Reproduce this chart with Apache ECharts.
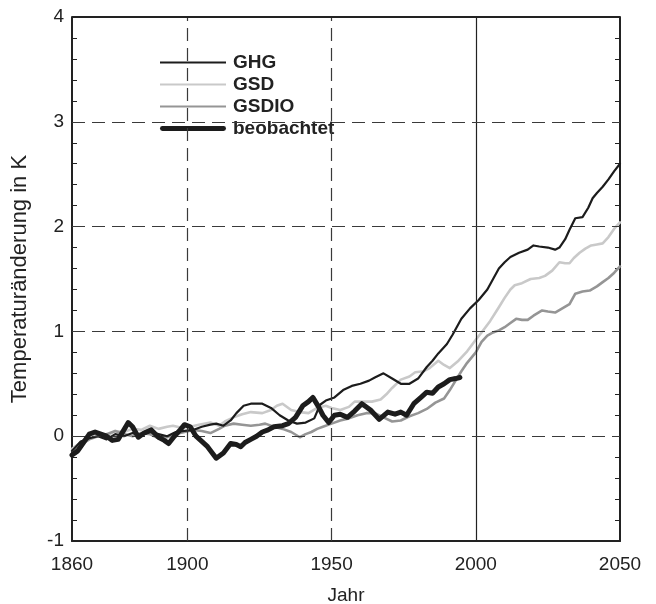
<!DOCTYPE html>
<html>
<head>
<meta charset="utf-8">
<script src="https://cdn.jsdelivr.net/npm/echarts@6/dist/echarts.min.js"></script>
<style>
  html, body { margin: 0; padding: 0; background: #fff; }
  #chart { width: 656px; height: 604px; }
</style>
</head>
<body>
<div id="chart"></div>
<script>
// Simulated and observed global temperature change (K), 1860-2050
const ghgYears = [1860,1863,1866,1869,1872,1875,1878,1881,1884,1887,1890,1893,1896,1899,1902,1905,1908,1910,1912.5,1915,1917,1919.5,1922,1926,1929,1932,1935,1938,1941,1944,1946,1948,1951,1954,1957,1960,1963,1965,1968,1971,1974,1977,1980,1983,1985,1987,1990,1992,1995,1998,2001,2004,2006,2008,2010,2012,2015,2018,2020,2022,2025,2027.5,2029,2031,2032.5,2034.5,2037,2039,2040.5,2042,2044,2046,2048,2050];
const ghgValues = [-0.14,-0.05,-0.02,0.0,-0.03,0.02,0.0,0.03,0.01,0.04,0.02,0.0,0.04,0.05,0.06,0.09,0.11,0.12,0.1,0.15,0.22,0.29,0.31,0.31,0.27,0.2,0.15,0.12,0.13,0.17,0.3,0.34,0.37,0.44,0.48,0.5,0.53,0.56,0.6,0.55,0.5,0.5,0.55,0.66,0.72,0.79,0.88,0.97,1.12,1.22,1.3,1.4,1.5,1.6,1.66,1.71,1.75,1.78,1.82,1.81,1.8,1.78,1.8,1.88,1.97,2.08,2.09,2.18,2.27,2.32,2.38,2.45,2.53,2.6];

const gsdYears = [1860,1863,1866,1869,1872,1875,1878,1881,1884,1887,1890,1893,1895,1898,1901,1904,1908,1911,1913,1916,1919,1922,1926,1929,1931,1933,1936,1939,1942,1945,1948,1950,1953,1956,1958,1961,1964,1967,1969,1971,1974,1977,1979,1982,1984,1987,1989,1991,1994,1997,2000,2002,2005,2008,2010,2012,2013.5,2016,2019,2022,2024,2026.5,2029,2031,2032.5,2034,2036,2038,2040,2042,2044,2046,2048,2050];
const gsdValues = [-0.12,-0.06,-0.02,0.02,0.0,0.05,0.04,0.07,0.06,0.1,0.07,0.09,0.1,0.08,0.09,0.11,0.13,0.1,0.14,0.18,0.21,0.23,0.22,0.25,0.29,0.31,0.25,0.23,0.22,0.27,0.29,0.27,0.25,0.28,0.33,0.33,0.33,0.35,0.4,0.46,0.54,0.57,0.61,0.62,0.65,0.72,0.68,0.65,0.72,0.81,0.92,0.99,1.1,1.23,1.32,1.4,1.44,1.46,1.5,1.51,1.53,1.58,1.66,1.65,1.65,1.7,1.75,1.79,1.82,1.83,1.84,1.9,1.98,2.04];

const gsdioYears = [1860,1863,1866,1869,1872,1875,1878,1881,1884,1887,1890,1893,1896,1899,1902,1905,1908,1911,1913,1916,1919,1922,1925,1927,1930,1933,1936,1939,1941,1943,1945,1947,1950,1953,1956,1959,1962,1965,1968,1971,1974,1977,1980,1983,1986,1989,1991,1993,1995,1997,2000,2002,2004,2006,2008,2010,2012,2014,2016,2018,2020,2023,2025,2027.5,2030,2032.5,2034.5,2037,2039.5,2042,2044,2046,2048,2050];
const gsdioValues = [-0.14,-0.08,-0.03,0.0,0.02,0.05,0.02,0.0,0.03,0.02,-0.02,-0.01,0.02,0.04,0.06,0.05,0.03,0.07,0.1,0.12,0.11,0.1,0.11,0.12,0.09,0.07,0.04,-0.01,0.02,0.04,0.07,0.09,0.12,0.15,0.17,0.2,0.22,0.22,0.18,0.14,0.15,0.19,0.22,0.26,0.32,0.36,0.44,0.53,0.62,0.7,0.8,0.9,0.96,0.99,1.01,1.04,1.08,1.12,1.11,1.11,1.15,1.2,1.19,1.18,1.22,1.26,1.36,1.38,1.39,1.43,1.47,1.51,1.56,1.62];

const obsYears = [1860,1862,1864,1866,1868,1870,1872,1874,1876,1878,1879.5,1881,1883,1885,1887.5,1890,1892,1893.5,1895.5,1897.5,1899,1901,1903,1905,1907,1910,1912.5,1915,1917,1918.5,1920,1922,1924,1926,1928,1930,1933,1935,1937.5,1940,1942,1943.5,1945.5,1947,1949,1951,1953,1955.5,1958,1960.5,1963.5,1966.5,1969.5,1972,1974,1976,1978.5,1981,1983,1985,1987,1989,1991,1993,1994.5];
const obsValues = [-0.18,-0.14,-0.06,0.02,0.04,0.02,0.0,-0.04,-0.03,0.06,0.13,0.09,-0.01,0.03,0.06,-0.01,-0.04,-0.07,0.0,0.06,0.11,0.09,0.0,-0.05,-0.1,-0.21,-0.16,-0.07,-0.08,-0.1,-0.06,-0.03,0.0,0.04,0.06,0.09,0.1,0.12,0.18,0.29,0.33,0.37,0.28,0.2,0.13,0.2,0.21,0.18,0.24,0.31,0.25,0.16,0.23,0.21,0.23,0.2,0.31,0.37,0.42,0.41,0.47,0.5,0.54,0.55,0.56];

const seriesNames = ['GHG', 'GSD', 'GSDIO', 'beobachtet'];
const xLabelValues = [1860, 1900, 1950, 2000, 2050];
const dashedYears = [1900, 1950];
const solidYears = [2000];
const dashedLevels = [0, 1, 2, 3];

const pairs = (xs, ys) => xs.map((x, i) => [x, ys[i]]);
const font = '"Liberation Sans", Arial, sans-serif';
const ink = '#222';
const gridDash = { color: '#3a3a3a', width: 1.2, type: [13, 7] };

// Legend keys: plain strokes of different weight inside a 66x12 box
const thinKey = 'path://M0,0M66,12M0,5h66v2h-66z';
const boldKey = 'path://M0,0M66,12M2,3.5h62a2.5,2.5,0,0,1,0,5h-62a2.5,2.5,0,0,1,0,-5z';
const legendKeys = [thinKey, thinKey, thinKey, boldKey];

const chart = echarts.init(document.getElementById('chart'), null, { renderer: 'canvas' });

const lineSeries = (name, data, color, width, z) => ({
  name, type: 'line', data, symbol: 'none', smooth: false, z,
  lineStyle: { color, width, join: 'round', cap: 'round' },
  itemStyle: { color },
  emphasis: { disabled: true },
  animation: false
});

chart.setOption({
  animation: false,
  backgroundColor: '#fff',
  grid: { left: 72, right: 36, top: 17, bottom: 63, containLabel: false, outerBoundsMode: 'none' },
  legend: {
    left: 155, top: 48, orient: 'vertical',
    itemWidth: 66, itemHeight: 12, itemGap: 3,
    textStyle: { fontFamily: font, fontWeight: 'bold', fontSize: 19, color: ink, padding: [0, 0, 0, 2] },
    data: seriesNames.map((name, i) => ({ name, icon: legendKeys[i] })),
    selectedMode: false
  },
  xAxis: {
    type: 'value', min: 1860, max: 2050, interval: 10,
    name: 'Jahr', nameLocation: 'middle', nameGap: 45,
    nameTextStyle: { fontFamily: font, fontSize: 19, color: ink },
    axisLine: { show: true, onZero: false, lineStyle: { color: ink, width: 2 } },
    axisTick: { show: false },
    splitLine: { show: false },
    axisLabel: {
      customValues: xLabelValues,
      formatter: v => String(v),
      fontFamily: font, fontSize: 19, color: ink, margin: 14
    }
  },
  yAxis: [{
    type: 'value', min: -1, max: 4, interval: 1,
    name: 'Temperaturänderung in K', nameLocation: 'middle', nameGap: 41,
    nameTextStyle: { fontFamily: font, fontSize: 22, color: ink },
    axisLine: { show: true, onZero: false, lineStyle: { color: ink, width: 2 } },
    axisTick: { show: true, inside: true, length: 5, lineStyle: { color: ink, width: 1 } },
    minorTick: { show: true, splitNumber: 5, length: 5, lineStyle: { color: ink, width: 1 } },
    splitLine: { show: false },
    axisLabel: { fontFamily: font, fontSize: 19, color: ink, margin: 8 }
  }, {
    type: 'value', min: -1, max: 4, interval: 1, position: 'right',
    axisLine: { show: true, onZero: false, lineStyle: { color: ink, width: 2 } },
    axisTick: { show: true, inside: true, length: 5, lineStyle: { color: ink, width: 1 } },
    minorTick: { show: true, splitNumber: 5, length: 5, lineStyle: { color: ink, width: 1 } },
    splitLine: { show: false },
    axisLabel: { show: false }
  }],
  graphic: [{
    // top frame edge
    type: 'line', shape: { x1: 72, y1: 17, x2: 620, y2: 17 },
    style: { stroke: ink, lineWidth: 2 }, silent: true, z: 10
  }],
  series: [
    Object.assign(lineSeries('GHG', pairs(ghgYears, ghgValues), '#1c1c1c', 2.2, 4), {
      markLine: {
        silent: true, symbol: 'none', label: { show: false }, animation: false,
        data: [
          ...dashedYears.map(v => ({ xAxis: v, lineStyle: gridDash })),
          ...solidYears.map(v => ({ xAxis: v, lineStyle: { color: ink, width: 1.2, type: 'solid' } })),
          ...dashedLevels.map(v => ({ yAxis: v, lineStyle: gridDash }))
        ]
      }
    }),
    lineSeries('GSD', pairs(gsdYears, gsdValues), '#c9c9c9', 2.6, 3),
    lineSeries('GSDIO', pairs(gsdioYears, gsdioValues), '#959595', 2.6, 3),
    lineSeries('beobachtet', pairs(obsYears, obsValues), '#1c1c1c', 5, 5)
  ]
});
</script>
</body>
</html>
